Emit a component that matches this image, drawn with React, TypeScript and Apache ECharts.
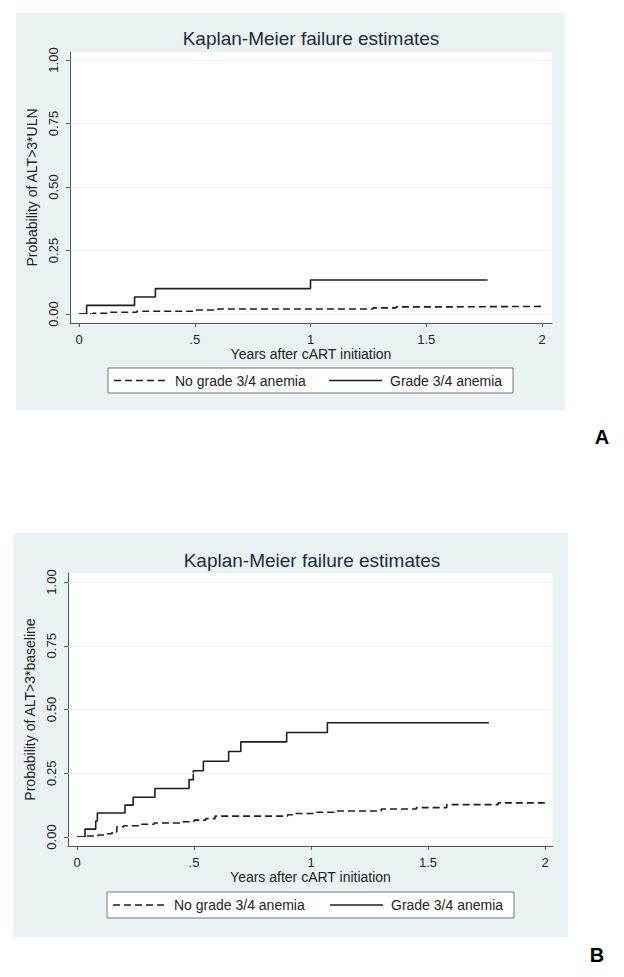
import React, { useEffect, useRef } from "react";
import * as echarts from "echarts";

const FONT = "'Liberation Sans', Arial, sans-serif";
const TITLE = "Kaplan-Meier failure estimates";
const X_NAME = "Years after cART initiation";
const Y_NAME_A = "Probability of ALT>3*ULN";
const Y_NAME_B = "Probability of ALT>3*baseline";
const LEGEND_LABELS = ["No grade 3/4 anemia", "Grade 3/4 anemia"];
const PANEL_LABELS = ["A", "B"];
const X_TICKS = [0, 0.5, 1, 1.5, 2];
const X_TICK_LABELS = ["0", ".5", "1", "1.5", "2"];
const Y_TICKS = [0, 0.25, 0.5, 0.75, 1];
const Y_TICK_LABELS = ["0.00", "0.25", "0.50", "0.75", "1.00"];

// Panel A
const A_NO_T = [0, 0.06, 0.13, 0.25, 0.49, 0.6, 1.27, 1.37, 1.6, 2.0];
const A_NO_V = [0, 0.003, 0.007, 0.011, 0.016, 0.02, 0.024, 0.028, 0.03, 0.031];
const A_G_T = [0, 0.033, 0.24, 0.33, 1.0, 1.765];
const A_G_V = [0, 0.034, 0.067, 0.1, 0.134, 0.134];

// Panel B
const B_NO_T = [0, 0.04, 0.09, 0.13, 0.15, 0.17, 0.2, 0.27, 0.33, 0.45, 0.5, 0.55, 0.59, 0.9, 0.93, 1.02, 1.1, 1.3, 1.45, 1.58, 1.8, 2.0];
const B_NO_V = [0, 0.004, 0.008, 0.013, 0.02, 0.04, 0.044, 0.05, 0.055, 0.06, 0.066, 0.072, 0.082, 0.087, 0.092, 0.097, 0.102, 0.11, 0.115, 0.127, 0.134, 0.145];
const B_G_T = [0, 0.034, 0.08, 0.087, 0.205, 0.24, 0.333, 0.479, 0.497, 0.54, 0.648, 0.7, 0.896, 1.07, 1.76];
const B_G_V = [0, 0.031, 0.063, 0.094, 0.125, 0.156, 0.19, 0.225, 0.26, 0.297, 0.335, 0.373, 0.41, 0.448, 0.448];

const BG = "#eaf2f3";
const AXIS = "#555";
const INK = "#1e1e1e";
const DASH = [7, 4];

const zip = (t: number[], v: number[]) => t.map((x, i) => [x, v[i]]);

function xLab(v: number) {
  const i = X_TICKS.findIndex((t) => Math.abs(t - v) < 1e-6);
  return i >= 0 ? X_TICK_LABELS[i] : "";
}
function yLab(v: number) {
  const i = Y_TICKS.findIndex((t) => Math.abs(t - v) < 1e-6);
  return i >= 0 ? Y_TICK_LABELS[i] : "";
}

function xAxisCfg(grid: number, min: number, max: number) {
  return {
    gridIndex: grid,
    type: "value",
    min,
    max,
    axisLine: { show: true, onZero: false, lineStyle: { color: AXIS, width: 1 } },
    axisTick: { show: true, length: 4, customValues: X_TICKS, lineStyle: { color: AXIS } },
    axisLabel: { customValues: X_TICKS, formatter: xLab, fontSize: 13, color: "#222", margin: 10, fontFamily: FONT },
    splitLine: { show: false },
    name: X_NAME,
    nameLocation: "middle",
    nameGap: 23,
    nameTextStyle: { fontSize: 14, color: "#222", fontFamily: FONT },
  };
}
function yAxisCfg(grid: number, min: number, max: number, name: string) {
  return {
    gridIndex: grid,
    type: "value",
    min,
    max,
    axisLine: { show: true, onZero: false, lineStyle: { color: AXIS, width: 1 } },
    axisTick: { show: true, length: 4, customValues: Y_TICKS, lineStyle: { color: AXIS } },
    axisLabel: { customValues: Y_TICKS, formatter: yLab, rotate: 90, fontSize: 13, color: "#222", margin: 10, fontFamily: FONT },
    splitLine: { show: false },
    name,
    nameLocation: "middle",
    nameGap: 25,
    nameTextStyle: { fontSize: 14, color: "#222", fontFamily: FONT },
  };
}

function gridSeries(idx: number) {
  return {
    type: "line",
    xAxisIndex: idx,
    yAxisIndex: idx,
    data: [],
    silent: true,
    markLine: {
      silent: true,
      symbol: ["none", "none"],
      label: { show: false },
      lineStyle: { color: BG, width: 1.2, type: "solid" },
      data: Y_TICKS.map((v) => ({ yAxis: v })),
    },
  };
}

function kmSeries(idx: number, data: number[][], dashed: boolean, name: string) {
  return {
    type: "line",
    name,
    xAxisIndex: idx,
    yAxisIndex: idx,
    step: "end",
    symbol: "none",
    data,
    lineStyle: { color: INK, width: 1.6, type: dashed ? DASH : "solid" },
  };
}

function legendBox(x: number, y: number, w: number, h: number, l1: number, t1: number, l2: number, t2: number) {
  const cy = y + h / 2;
  return {
    type: "group",
    children: [
      { type: "rect", shape: { x, y, width: w, height: h }, style: { fill: "#fff", stroke: "#777", lineWidth: 1 } },
      { type: "line", shape: { x1: l1, y1: cy, x2: l1 + 53, y2: cy }, style: { stroke: INK, lineWidth: 1.5, lineDash: DASH } },
      { type: "text", x: t1, y: cy, style: { text: LEGEND_LABELS[0], font: `14px ${FONT}`, fill: "#222", textVerticalAlign: "middle", verticalAlign: "middle" } },
      { type: "line", shape: { x1: l2, y1: cy, x2: l2 + 53, y2: cy }, style: { stroke: INK, lineWidth: 1.5 } },
      { type: "text", x: t2, y: cy, style: { text: LEGEND_LABELS[1], font: `14px ${FONT}`, fill: "#222", textVerticalAlign: "middle", verticalAlign: "middle" } },
    ],
  };
}

function titleText(x: number, y: number) {
  return {
    type: "text",
    x,
    y,
    style: { text: TITLE, font: `19px ${FONT}`, fill: "#1f2a3c", align: "center", verticalAlign: "middle" },
  };
}

export default function App() {
  const ref = useRef<HTMLDivElement>(null);
  useEffect(() => {
    document.body.style.margin = "0";
    if (!ref.current) return;
    const chart = echarts.init(ref.current, null, { renderer: "svg" });
    chart.setOption({
      animation: false,
      backgroundColor: "#fff",
      grid: [
        { left: 70, top: 52, width: 482, height: 271, show: true, backgroundColor: "#fff", borderWidth: 0 },
        { left: 68, top: 573, width: 485, height: 273, show: true, backgroundColor: "#fff", borderWidth: 0 },
      ],
      xAxis: [xAxisCfg(0, -0.0389, 2.0432), xAxisCfg(1, -0.0385, 2.0342)],
      yAxis: [yAxisCfg(0, -0.0354, 1.0315, Y_NAME_A), yAxisCfg(1, -0.0353, 1.0353, Y_NAME_B)],
      graphic: [
        { type: "rect", z: -10, shape: { x: 16, y: 13, width: 549, height: 397 }, style: { fill: BG } },
        { type: "rect", z: -10, shape: { x: 13, y: 533, width: 555, height: 404 }, style: { fill: BG } },
        titleText(311, 38),
        titleText(312, 560),
        legendBox(108, 368, 405, 25, 114, 175, 329, 390),
        legendBox(107, 892, 407, 26, 113, 174, 330, 391),
        { type: "text", x: 602, y: 437, style: { text: PANEL_LABELS[0], font: `bold 20px ${FONT}`, fill: "#000", align: "center", verticalAlign: "middle" } },
        { type: "text", x: 597, y: 955, style: { text: PANEL_LABELS[1], font: `bold 20px ${FONT}`, fill: "#000", align: "center", verticalAlign: "middle" } },
      ],
      series: [
        gridSeries(0),
        gridSeries(1),
        kmSeries(0, zip(A_NO_T, A_NO_V), true, "A " + LEGEND_LABELS[0]),
        kmSeries(0, zip(A_G_T, A_G_V), false, "A " + LEGEND_LABELS[1]),
        kmSeries(1, zip(B_NO_T, B_NO_V), true, "B " + LEGEND_LABELS[0]),
        kmSeries(1, zip(B_G_T, B_G_V), false, "B " + LEGEND_LABELS[1]),
      ],
    });
    return () => chart.dispose();
  }, []);
  return <div ref={ref} style={{ width: 624, height: 977 }} />;
}
